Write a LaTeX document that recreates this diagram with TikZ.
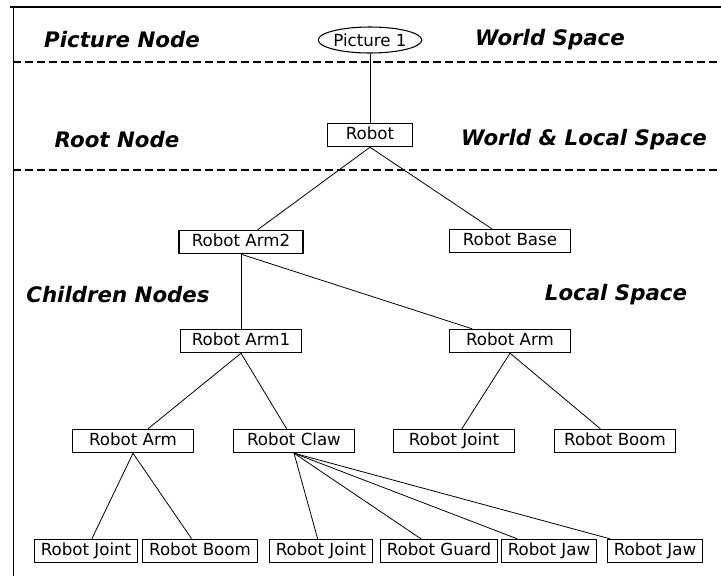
\documentclass[tikz,border=0pt]{standalone}
\usepackage{fontspec}
\setmainfont{DejaVu Sans}
\usetikzlibrary{positioning,shapes.geometric}
\tikzset{
  nbox/.style={rectangle,draw,line width=0.8pt,minimum height=17.5pt,
    inner sep=2.5pt,text height=9.5pt,text depth=2.5pt,
    minimum width=#1,font=\fontsize{12.5}{14}\selectfont},
  nbox/.default=91pt,
  leaf/.style={nbox=0pt,inner xsep=5pt},
  pic/.style={ellipse,draw,line width=0.8pt,minimum width=77pt,
    minimum height=19.5pt,inner sep=0pt,font=\fontsize{12.5}{14}\selectfont},
  tag/.style={font=\fontsize{16}{18}\selectfont\bfseries\itshape},
  link/.style={draw,line width=0.6pt},
  layer/.style={line width=0.8pt,dash pattern=on 6pt off 3pt}
}

\begin{document}
\begin{tikzpicture}[x=0.75pt,y=-0.75pt]
  \useasboundingbox (0,0) rectangle (721,576);
  % frame and space bands
  \draw[line width=1.2pt] (10,7) -- (721,7);
  \draw[line width=0.6pt] (13,7) -- (13,576);
  \draw[layer] (13,62) -- (721,62);
  \draw[layer] (13,170) -- (721,170);
  % band labels
  \node[tag] (picnode) at (122,40) {Picture Node};
  \node[tag] (world)   at (550,40) {World Space};
  \node[tag] (rootnode) at (117,140) {Root Node};
  \node[tag] (worldlocal) at (584,140) {World \& Local Space};
  \node[tag] (childnodes) at (118,295) {Children Nodes};
  \node[tag] (local) at (616,295) {Local Space};
  % tree
  \node[pic] (picture) at (370,40) {Picture 1};
  \node[nbox=64pt] (robot) at (370,135) {Robot};
  \node[nbox=93pt] (arm2) at (241,242) {Robot Arm2};
  \node[nbox] (base) at (510,241) {Robot Base};
  \node[nbox] (arm1) at (241,341) {Robot Arm1};
  \node[nbox] (armR) at (510,341) {Robot Arm};
  \node[nbox] (armL) at (133,441) {Robot Arm};
  \node[nbox] (claw) at (294,441) {Robot Claw};
  \node[nbox] (jointR) at (454,441) {Robot Joint};
  \node[nbox] (boomR) at (615,441) {Robot Boom};
  \node[leaf] (jointL) at (86,551) {Robot Joint};
  \node[leaf] (boomL) at (200,551) {Robot Boom};
  \node[leaf] (jointC) at (321,551) {Robot Joint};
  \node[leaf] (guard) at (439,551) {Robot Guard};
  \node[leaf] (jawA) at (549,551) {Robot Jaw};
  \node[leaf] (jawB) at (655,551) {Robot Jaw};
  % links
  \draw[link] (picture) -- (robot);
  \draw[link] (robot.south) -- (arm2);
  \draw[link] (robot.south) -- (base);
  \draw[link] (arm2) -- (arm1);
  \draw[link] (arm2.south) -- (armR);
  \draw[link] (arm1.south) -- (armL);
  \draw[link] (arm1.south) -- (claw);
  \draw[link] (armR.south) -- (jointR);
  \draw[link] (armR.south) -- (boomR);
  \draw[link] (armL.south) -- (jointL);
  \draw[link] (armL.south) -- (boomL);
  \foreach \kid in {jointC,guard,jawA,jawB}
    \draw[link] (claw.south) -- (\kid);
\end{tikzpicture}
\end{document}
